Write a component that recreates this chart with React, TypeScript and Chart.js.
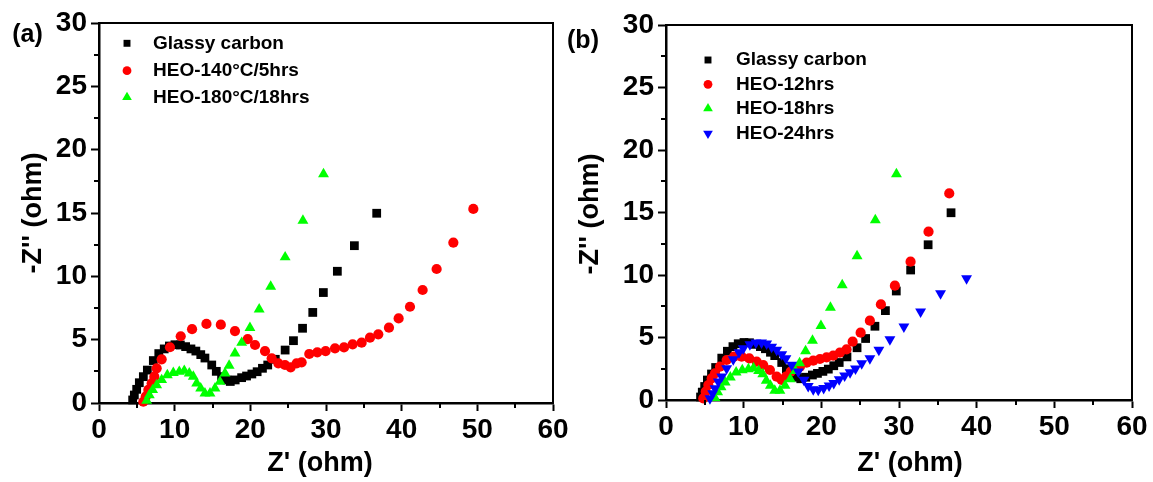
import React, { useEffect, useRef } from "react";
import { Chart, registerables } from "chart.js";
Chart.register(...registerables);

const W = 1153;
const H = 482;
const FONT = "'Liberation Sans', Arial, Helvetica, sans-serif";

// ---------- data ----------
const glassyX = [4.45, 4.67, 4.98, 5.33, 5.86, 6.39, 7.18, 7.9, 8.62, 9.3, 10.04, 10.75, 11.45, 12.15, 12.8, 13.45, 14.0, 14.9, 15.5, 16.2, 16.9, 17.35, 18.0, 18.85, 19.5, 20.2, 20.9, 21.6, 22.3, 23.3, 24.6, 25.7, 26.9, 28.25, 29.65, 31.5, 33.75, 36.7];
const glassyY = [0.24, 0.63, 1.08, 1.6, 2.08, 2.6, 3.35, 3.9, 4.27, 4.5, 4.6, 4.58, 4.45, 4.27, 4.1, 3.82, 3.55, 3.0, 2.5, 2.08, 1.82, 1.7, 1.82, 2.0, 2.13, 2.29, 2.47, 2.74, 3.0, 3.45, 4.18, 4.92, 5.9, 7.15, 8.72, 10.4, 12.42, 14.98];

const heo140X = [5.86, 6.17, 6.52, 6.96, 7.31, 7.62, 8.28, 9.38, 10.8, 12.3, 14.2, 16.1, 17.97, 19.65, 20.62, 21.94, 22.82, 23.7, 24.58, 25.33, 26.12, 26.78, 27.79, 28.85, 29.95, 31.19, 32.38, 33.52, 34.71, 35.81, 36.91, 38.32, 39.6, 41.1, 42.77, 44.62, 46.83, 49.47];
const heo140Y = [0.1, 0.5, 1.03, 1.55, 2.08, 2.74, 3.45, 4.4, 5.27, 5.83, 6.24, 6.18, 5.68, 5.05, 4.58, 4.1, 3.53, 3.13, 3.0, 2.82, 3.13, 3.21, 3.87, 4.0, 4.1, 4.32, 4.39, 4.63, 4.76, 5.16, 5.42, 5.95, 6.68, 7.6, 8.92, 10.58, 12.66, 15.32];

// HEO-180°C/18hrs in (a) and HEO-18hrs in (b)
const heo18X = [6.3, 6.65, 7.09, 7.62, 8.28, 9.03, 9.82, 10.61, 11.27, 11.93, 12.46, 12.91, 13.44, 14.0, 14.67, 15.33, 15.99, 16.65, 17.2, 17.97, 18.86, 19.95, 21.17, 22.69, 24.6, 26.95, 29.67];
const heo18Y = [0.18, 0.63, 1.03, 1.42, 1.82, 2.21, 2.39, 2.47, 2.55, 2.34, 2.08, 1.55, 1.16, 0.76, 0.76, 1.16, 1.68, 2.34, 2.95, 3.92, 4.76, 5.94, 7.4, 9.19, 11.51, 14.4, 18.08];

const heo12X = [4.8, 5.11, 5.45, 5.88, 6.31, 6.95, 7.81, 8.75, 9.74, 10.72, 11.67, 12.52, 13.38, 14.25, 14.89, 15.44, 16.05, 16.65, 17.25, 18.11, 18.96, 19.82, 20.68, 21.53, 22.39, 23.25, 24.03, 25.06, 26.25, 27.67, 29.47, 31.49, 33.8, 36.47];
const heo12Y = [0.13, 0.67, 1.2, 1.73, 2.13, 2.67, 3.2, 3.47, 3.47, 3.33, 3.07, 2.8, 2.4, 1.87, 1.6, 1.87, 2.27, 2.5, 2.67, 2.99, 3.15, 3.28, 3.41, 3.55, 3.79, 4.05, 4.67, 5.39, 6.35, 7.65, 9.15, 11.07, 13.47, 16.53];

const heo24X = [5.66, 6.01, 6.31, 6.73, 7.17, 7.81, 8.66, 9.4, 9.95, 10.8, 11.58, 12.3, 12.96, 13.6, 14.25, 14.9, 15.44, 16.18, 17.03, 17.76, 18.31, 18.96, 19.6, 20.3, 21.0, 21.6, 22.3, 23.0, 23.7, 24.4, 25.2, 26.25, 27.41, 28.83, 30.63, 32.78, 35.35, 38.7];
const heo24Y = [0.13, 0.53, 0.93, 1.47, 1.87, 2.53, 3.25, 3.8, 4.13, 4.45, 4.59, 4.58, 4.5, 4.25, 4.0, 3.65, 3.33, 2.8, 2.27, 1.6, 1.1, 0.85, 0.8, 0.95, 1.15, 1.35, 1.65, 1.95, 2.2, 2.5, 2.93, 3.33, 4.0, 4.85, 5.87, 7.07, 8.53, 9.73];

const xTickValues = [0, 10, 20, 30, 40, 50, 60];
const yTickValues = [0, 5, 10, 15, 20, 25, 30];
const xMinorValues = [5, 15, 25, 35, 45, 55];
const yMinorValues = [2.5, 7.5, 12.5, 17.5, 22.5, 27.5];

const labelsA = ["Glassy carbon", "HEO-140°C/5hrs", "HEO-180°C/18hrs"];
const labelsB = ["Glassy carbon", "HEO-12hrs", "HEO-18hrs", "HEO-24hrs"];
const xTitle = "Z' (ohm)";
const yTitle = "-Z'' (ohm)";

// ---------- styles ----------
type Style = { color: string; shape: string; rotation: number; radius: number; lr: number };
const sSquare: Style = { color: "#000000", shape: "rect", rotation: 0, radius: 6.2, lr: 4.9 };
const sCircle: Style = { color: "#ff0000", shape: "circle", rotation: 0, radius: 5.1, lr: 4.4 };
const sUp: Style = { color: "#00ff00", shape: "triangle", rotation: 0, radius: 6.3, lr: 5.6 };
const sDown: Style = { color: "#0000ff", shape: "triangle", rotation: 180, radius: 6.3, lr: 5.6 };

function pts(xs: number[], ys: number[]) {
  return xs.map((x, i) => ({ x, y: ys[i] }));
}

function drawMarker(ctx: CanvasRenderingContext2D, st: Style, x: number, y: number, r: number) {
  ctx.fillStyle = st.color;
  ctx.beginPath();
  if (st.shape === "rect") {
    const s = r * Math.SQRT1_2;
    ctx.rect(x - s, y - s, 2 * s, 2 * s);
  } else if (st.shape === "circle") {
    ctx.arc(x, y, r, 0, Math.PI * 2);
  } else {
    let rad = (st.rotation * Math.PI) / 180;
    for (let k = 0; k < 3; k++) {
      const px = x + Math.sin(rad) * r;
      const py = y - Math.cos(rad) * r;
      if (k === 0) ctx.moveTo(px, py);
      else ctx.lineTo(px, py);
      rad += (Math.PI * 2) / 3;
    }
    ctx.closePath();
  }
  ctx.fill();
}

type Panel = {
  tag: string;
  tagPos: [number, number];
  xTitlePos: [number, number];
  yTitlePos: [number, number];
  legendMarkerX: number;
  legendTextX: number;
  legendRows: number[];
  labels: string[];
  series: { xs: number[]; ys: number[]; st: Style }[];
  padLeft: number;
  padRight: number;
  padTop: number;
  yWidth: number;
  xHeight: number;
};

const decorPlugin = {
  id: "decor",
  afterDraw(chart: any, _args: any, opts: any) {
    const p: Panel = opts.panel;
    const { ctx, chartArea: ca, scales } = chart;
    const xs = scales.x;
    const ys = scales.y;
    ctx.save();
    // top & right frame
    ctx.strokeStyle = "#000";
    ctx.lineWidth = 2;
    ctx.beginPath();
    ctx.moveTo(ca.left, ca.top);
    ctx.lineTo(ca.right, ca.top);
    ctx.lineTo(ca.right, ca.bottom);
    ctx.stroke();
    // minor ticks
    ctx.lineWidth = 2;
    ctx.beginPath();
    for (const v of xMinorValues) {
      const px = Math.round(xs.getPixelForValue(v));
      ctx.moveTo(px, ca.bottom);
      ctx.lineTo(px, ca.bottom + 5);
    }
    for (const v of yMinorValues) {
      const py = Math.round(ys.getPixelForValue(v));
      ctx.moveTo(ca.left, py);
      ctx.lineTo(ca.left - 5, py);
    }
    ctx.stroke();
    // titles
    ctx.fillStyle = "#000";
    ctx.textAlign = "center";
    ctx.textBaseline = "middle";
    ctx.font = `bold 27px ${FONT}`;
    ctx.fillText(xTitle, p.xTitlePos[0], p.xTitlePos[1]);
    ctx.save();
    ctx.translate(p.yTitlePos[0], p.yTitlePos[1]);
    ctx.rotate(-Math.PI / 2);
    ctx.fillText(yTitle, 0, 0);
    ctx.restore();
    ctx.font = `bold 25px ${FONT}`;
    ctx.fillText(p.tag, p.tagPos[0], p.tagPos[1]);
    // legend
    ctx.font = `bold 19px ${FONT}`;
    ctx.textAlign = "left";
    p.labels.forEach((lab, i) => {
      const st = p.series[i].st;
      const y = p.legendRows[i];
      drawMarker(ctx, st, p.legendMarkerX, y, st.lr);
      ctx.fillStyle = "#000";
      ctx.fillText(lab, p.legendTextX, y);
    });
    ctx.restore();
  },
};

function makeConfig(p: Panel): any {
  const n = p.series.length;
  return {
    type: "scatter",
    data: {
      datasets: p.series.map((s, i) => ({
        label: p.labels[i],
        data: pts(s.xs, s.ys),
        backgroundColor: s.st.color,
        borderColor: s.st.color,
        borderWidth: 0,
        pointStyle: s.st.shape,
        pointRotation: s.st.rotation,
        pointRadius: s.st.radius,
        pointHoverRadius: s.st.radius,
        showLine: false,
        clip: false,
        order: n - i,
      })),
    },
    options: {
      responsive: false,
      animation: false,
      events: [],
      layout: { padding: { left: p.padLeft, right: p.padRight, top: p.padTop, bottom: 0 } },
      plugins: {
        legend: { display: false },
        tooltip: { enabled: false },
        decor: { panel: p },
      },
      scales: {
        x: {
          type: "linear",
          position: "bottom",
          min: xTickValues[0],
          max: xTickValues[xTickValues.length - 1],
          afterBuildTicks: (s: any) => {
            s.ticks = xTickValues.map((v) => ({ value: v }));
          },
          ticks: {
            color: "#000",
            font: { family: FONT, size: 28, weight: "bold" },
            padding: 2,
            autoSkip: false,
            maxRotation: 0,
            callback: (v: any) => String(v),
          },
          grid: { display: true, drawOnChartArea: false, drawTicks: true, tickLength: 8, tickWidth: 2, tickColor: "#000" },
          border: { display: true, color: "#000", width: 2.5 },
          afterFit: (s: any) => {
            s.height = p.xHeight;
          },
        },
        y: {
          type: "linear",
          position: "left",
          min: yTickValues[0],
          max: yTickValues[yTickValues.length - 1],
          afterBuildTicks: (s: any) => {
            s.ticks = yTickValues.map((v) => ({ value: v }));
          },
          ticks: {
            color: "#000",
            font: { family: FONT, size: 28, weight: "bold" },
            padding: 4,
            autoSkip: false,
            callback: (v: any) => String(v),
          },
          grid: { display: true, drawOnChartArea: false, drawTicks: true, tickLength: 8, tickWidth: 2, tickColor: "#000" },
          border: { display: true, color: "#000", width: 2.5 },
          afterFit: (s: any) => {
            s.width = p.yWidth;
          },
        },
      },
    },
    plugins: [decorPlugin],
  };
}

const panelA: Panel = {
  tag: "(a)",
  tagPos: [27.5, 35],
  xTitlePos: [320, 464],
  yTitlePos: [34, 213],
  legendMarkerX: 127,
  legendTextX: 153,
  legendRows: [43.3, 70.7, 97.3],
  labels: labelsA,
  series: [
    { xs: glassyX, ys: glassyY, st: sSquare },
    { xs: heo140X, ys: heo140Y, st: sCircle },
    { xs: heo18X, ys: heo18Y, st: sUp },
  ],
  padLeft: 0,
  padRight: W - 553,
  padTop: 23,
  yWidth: 99,
  xHeight: H - 403,
};

const panelB: Panel = {
  tag: "(b)",
  tagPos: [583, 41],
  xTitlePos: [910, 464],
  yTitlePos: [591, 214],
  legendMarkerX: 708,
  legendTextX: 736,
  legendRows: [60, 84.3, 108.5, 133.5],
  labels: labelsB,
  series: [
    { xs: glassyX, ys: glassyY, st: sSquare },
    { xs: heo12X, ys: heo12Y, st: sCircle },
    { xs: heo18X, ys: heo18Y, st: sUp },
    { xs: heo24X, ys: heo24Y, st: sDown },
  ],
  padLeft: 560,
  padRight: W - 1132,
  padTop: 25,
  yWidth: 666 - 560,
  xHeight: H - 400,
};

export default function App() {
  const refA = useRef<HTMLCanvasElement>(null);
  const refB = useRef<HTMLCanvasElement>(null);
  useEffect(() => {
    const a = new Chart(refA.current as HTMLCanvasElement, makeConfig(panelA));
    const b = new Chart(refB.current as HTMLCanvasElement, makeConfig(panelB));
    return () => {
      a.destroy();
      b.destroy();
    };
  }, []);
  const cs: React.CSSProperties = { position: "absolute", left: 0, top: 0, width: W, height: H };
  return (
    <div style={{ position: "fixed", left: 0, top: 0, width: W, height: H, background: "#fff" }}>
      <canvas ref={refA} width={W} height={H} style={cs} />
      <canvas ref={refB} width={W} height={H} style={cs} />
    </div>
  );
}
